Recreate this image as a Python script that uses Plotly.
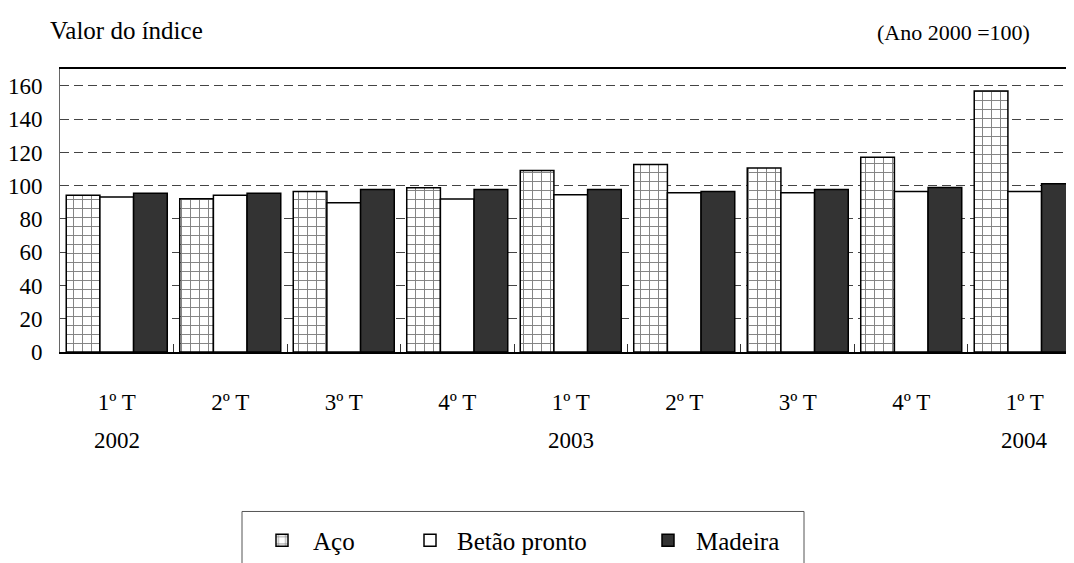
import plotly.graph_objects as go

# ---- data ----
periods = ["2002 T1", "2002 T2", "2002 T3", "2002 T4",
           "2003 T1", "2003 T2", "2003 T3", "2003 T4", "2004 T1"]
quarter_labels = ["1º T", "2º T", "3º T", "4º T", "1º T", "2º T", "3º T", "4º T", "1º T"]
year_labels = ["2002", "", "", "", "2003", "", "", "", "2004"]

aco = [94.2, 92.2, 96.6, 98.8, 109.2, 112.8, 110.6, 117.2, 156.9]
betao = [93.2, 94.2, 89.8, 92.0, 94.6, 95.8, 95.8, 96.6, 96.6]
madeira = [95.4, 95.4, 97.8, 97.8, 97.8, 96.6, 97.8, 99.0, 101.2]

y_ticks = [0, 20, 40, 60, 80, 100, 120, 140, 160]

# ---- layout geometry (pixels, in screenshot coordinates) ----
OFF = 8  # page body margin
W, H = 1074 - OFF, 563 - OFF
ML, MR, MT = 60 - OFF, 0, 69 - OFF
PLOT_BOTTOM = 351.7 - OFF
MB = H - PLOT_BOTTOM
PW = W - ML - MR
PH = PLOT_BOTTOM - MT


def px_x(px):
    return (px - OFF - ML) / PW


def px_y(py):
    return (PLOT_BOTTOM - (py - OFF)) / PH


FONT = "Liberation Serif, Times New Roman, serif"

fig = go.Figure()
fig.add_trace(go.Bar(
    x=periods, y=aco, name="Aço", legend="legend",
    marker=dict(color="white", line=dict(color="black", width=1.5),
                pattern=dict(shape="+", fgcolor="black", bgcolor="white",
                             size=9, solidity=0.2)),
))
fig.add_trace(go.Bar(
    x=periods, y=betao, name="Betão pronto", legend="legend2",
    marker=dict(color="white", line=dict(color="black", width=1.5)),
))
fig.add_trace(go.Bar(
    x=periods, y=madeira, name="Madeira", legend="legend3",
    marker=dict(color="#333333", line=dict(color="black", width=1.5)),
))

annotations = [
    dict(text="Valor do índice", xref="paper", yref="paper",
         x=px_x(48), y=px_y(31), xanchor="left", yanchor="middle",
         showarrow=False, font=dict(family=FONT, size=25, color="black")),
    dict(text="(Ano 2000 =100)", xref="paper", yref="paper",
         x=px_x(1032), y=px_y(33), xanchor="right", yanchor="middle",
         showarrow=False, font=dict(family=FONT, size=22, color="black")),
]
for p, yl in zip(periods, year_labels):
    if yl:
        annotations.append(dict(text=yl, xref="x", yref="paper", x=p, y=px_y(440),
                                xanchor="center", yanchor="middle", showarrow=False,
                                font=dict(family=FONT, size=23, color="black")))

legend_common = dict(orientation="h", xanchor="left", yanchor="middle",
                     bgcolor="rgba(0,0,0,0)", borderwidth=0,
                     font=dict(family=FONT, size=25, color="black"))

fig.update_layout(
    width=W, height=H,
    margin=dict(l=ML, r=MR, t=MT, b=MB, autoexpand=False),
    paper_bgcolor="white", plot_bgcolor="white",
    font=dict(family=FONT, size=23, color="black"),
    barmode="group", bargap=0.11, bargroupgap=0,
    xaxis=dict(type="category", categoryorder="array", categoryarray=periods,
               range=[-0.5, 8.434], tickmode="array", tickvals=periods,
               ticktext=quarter_labels, tickson="boundaries",
               ticks="inside", ticklen=8, tickcolor="#333", tickwidth=1,
               showline=True, linecolor="black", linewidth=1.5, mirror=True,
               showgrid=False, ticklabelstandoff=29,
               tickfont=dict(family=FONT, size=23, color="black")),
    yaxis=dict(range=[0, 170.2], tickmode="array", tickvals=y_ticks,
               showgrid=True, gridcolor="#444", gridwidth=1, griddash="9px,5px",
               zeroline=False, showline=True, linecolor="#666", linewidth=1,
               ticks="", ticklabelstandoff=12,
               tickfont=dict(family=FONT, size=23, color="black")),
    annotations=annotations,
    shapes=[dict(type="rect", xref="paper", yref="paper",
                 x0=px_x(242), x1=px_x(804), y0=px_y(511), y1=px_y(620),
                 line=dict(color="#555", width=1), fillcolor="rgba(0,0,0,0)")],
    legend=dict(x=px_x(251), y=px_y(540), itemwidth=52, **legend_common),
    legend2=dict(x=px_x(403), y=px_y(540), itemwidth=44, **legend_common),
    legend3=dict(x=px_x(640), y=px_y(540), itemwidth=46, **legend_common),
    showlegend=True,
)

fig.write_html("out.html")
